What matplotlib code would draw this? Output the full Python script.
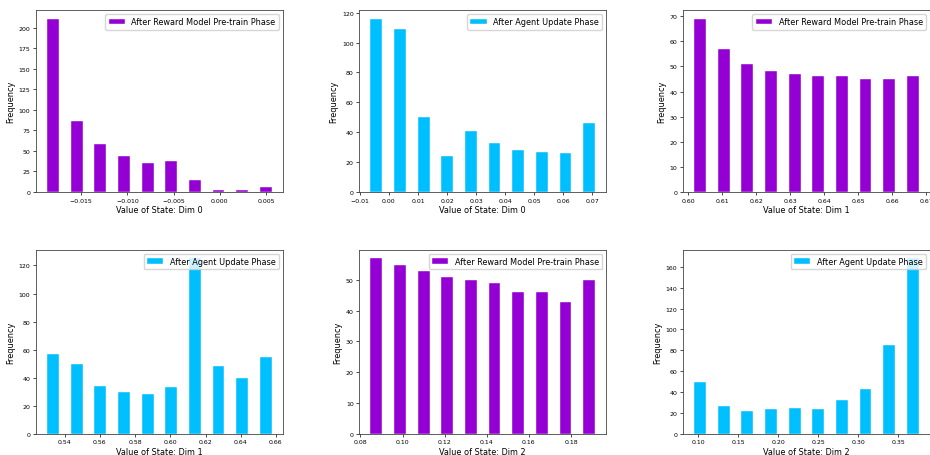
import numpy as np
import matplotlib
matplotlib.use("Agg")
import matplotlib.pyplot as plt

# counts per bin (10 bins each) and the (min, max) range of the state values
dim0_reward = [211, 87, 59, 44, 35, 38, 14, 3, 3, 6]
dim0_reward_range = (-0.0193, 0.00625)

dim0_agent = [116, 109, 50, 24, 41, 33, 28, 27, 26, 46]
dim0_agent_range = (-0.00838, 0.07300)

dim1_reward = [69, 57, 51, 48, 47, 46, 46, 45, 45, 46]
dim1_reward_range = (0.6000, 0.6696)

dim1_agent = [57, 50, 34, 30, 28, 33, 125, 48, 40, 55]
dim1_agent_range = (0.5267, 0.6610)

dim2_reward = [57, 55, 53, 51, 50, 49, 46, 46, 43, 50]
dim2_reward_range = (0.0820, 0.19419)

dim2_agent = [50, 27, 22, 24, 25, 24, 32, 43, 85, 168]
dim2_agent_range = (0.0877, 0.3833)

reward_label = "After Reward Model Pre-train Phase"
agent_label = "After Agent Update Phase"
reward_color = "#9400D3"
agent_color = "#00BFFF"

panels = [
    (dim0_reward, dim0_reward_range, reward_label, reward_color, "Value of State: Dim 0"),
    (dim0_agent, dim0_agent_range, agent_label, agent_color, "Value of State: Dim 0"),
    (dim1_reward, dim1_reward_range, reward_label, reward_color, "Value of State: Dim 1"),
    (dim1_agent, dim1_agent_range, agent_label, agent_color, "Value of State: Dim 1"),
    (dim2_reward, dim2_reward_range, reward_label, reward_color, "Value of State: Dim 2"),
    (dim2_agent, dim2_agent_range, agent_label, agent_color, "Value of State: Dim 2"),
]

fig = plt.figure(figsize=(9.3, 4.56), dpi=100)

lefts = [0.0387, 0.3863, 0.7344]
rows = [(0.5768, 0.3991), (0.0467, 0.4035)]
width = 0.2656

for i, (counts, rng, label, color, xlabel) in enumerate(panels):
    bottom, height = rows[i // 3]
    ax = fig.add_axes([lefts[i % 3], bottom, width, height])
    n = len(counts)
    edges = np.linspace(rng[0], rng[1], n + 1)
    centers = (edges[:-1] + edges[1:]) / 2
    ax.hist(centers, bins=edges, weights=counts, rwidth=0.5, color=color,
            edgecolor="white", linewidth=0.3, label=label)
    ax.set_xlabel(xlabel, fontsize=5.9, labelpad=2)
    ax.set_ylabel("Frequency", fontsize=5.9, labelpad=2.5)
    ax.tick_params(labelsize=4.5, length=2, width=0.5, pad=2)
    for s in ax.spines.values():
        s.set_linewidth(0.6)
        s.set_color("#444444")
    ax.legend(loc="upper right", fontsize=5.9, handlelength=2, borderpad=0.4,
              framealpha=0.8)

fig.savefig("out.png", dpi=100)
